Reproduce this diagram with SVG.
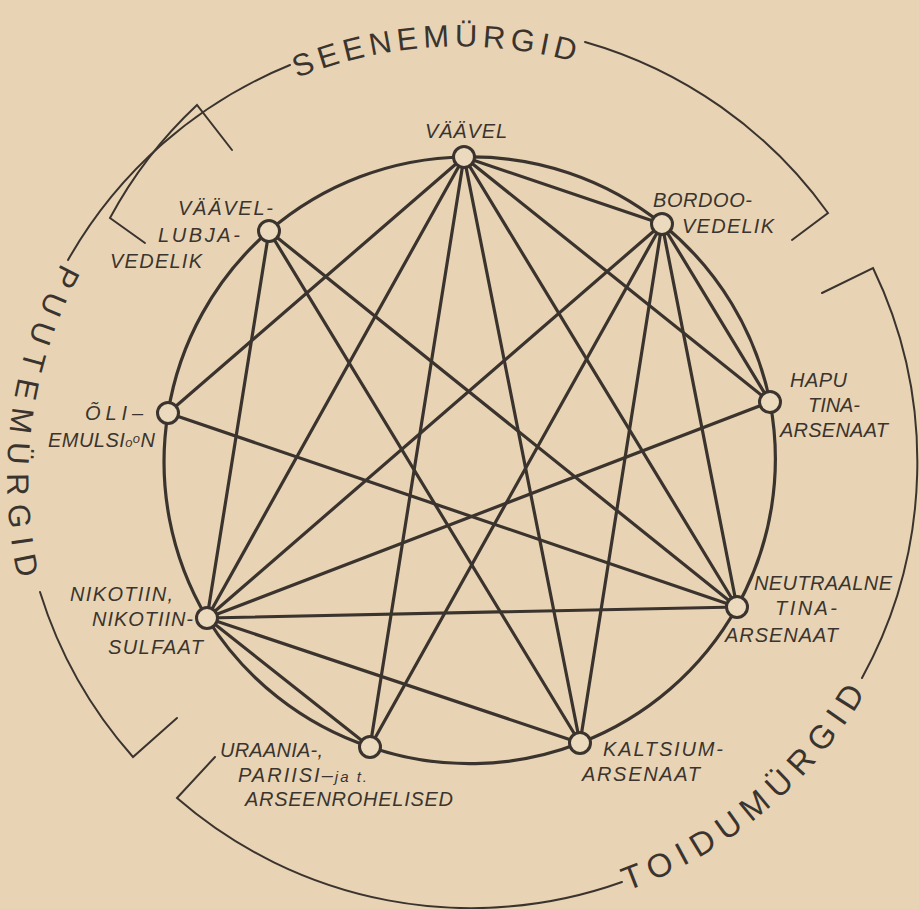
<svg xmlns="http://www.w3.org/2000/svg" width="919" height="909" viewBox="0 0 919 909">
<defs>
<style>
.bg{fill:#e8d4b5}
.edge{fill:none;stroke:#3b342e;stroke-width:3.2;stroke-linecap:round}
.br{fill:none;stroke:#3b342e;stroke-width:2;stroke-linecap:round;stroke-linejoin:miter}
.node{fill:#ebdabe;stroke:#3b342e;stroke-width:3}
.lbl{font-family:"Liberation Sans","DejaVu Sans",sans-serif;font-style:italic;font-size:20px;fill:#3b342e}
.grp{font-family:"Liberation Sans","DejaVu Sans",sans-serif;font-size:31px;fill:#3b342e}
.sm{font-size:15px}
.xs{font-size:13px}
</style>
<path id="pSeene" d="M 297 78 A 433 433 0 0 1 600 70"/>
<path id="pPuute" d="M 61.5 263 A 455 455 0 0 0 23.5 600"/>
<path id="pToidu" d="M 627 891 A 459 459 0 0 0 886 654"/>
</defs>
<rect class="bg" x="0" y="0" width="919" height="909"/>

<g id="brackets">
<path class="br" d="M 68 260 A 451 451 0 0 1 290 65"/>
<path class="br" d="M 585 42 A 451 451 0 0 1 828 213 L 792 240"/>
<path class="br" d="M 232 150 L 197 105 A 440 440 0 0 0 110 218 L 145 243"/>
<path class="br" d="M 40 592 A 449 449 0 0 0 133 757 L 177 718"/>
<path class="br" d="M 215 757 L 177 798 A 448 448 0 0 0 622 882"/>
<path class="br" d="M 862 678 A 448 448 0 0 0 873 268 L 822 293"/>
<text class="grp"><textPath href="#pSeene" textLength="282">SEENEMÜRGID</textPath></text>
<text class="grp"><textPath href="#pPuute" textLength="325">PUUTEMÜRGID</textPath></text>
<text class="grp" style="font-size:33px"><textPath href="#pToidu" textLength="316">TOIDUMÜRGID</textPath></text>
</g>

<g id="connectors">
<path class="edge" d="M 464 157 A 305 305 0 0 1 662 224"/>
<path class="edge" d="M 662 224 A 305 305 0 0 1 770 402"/>
<path class="edge" d="M 770 402 A 305 305 0 0 1 737 607"/>
<path class="edge" d="M 737 607 A 305 305 0 0 1 580 743"/>
<path class="edge" d="M 580 743 A 305 305 0 0 1 370 747"/>
<path class="edge" d="M 370 747 A 305 305 0 0 1 207 618"/>
<path class="edge" d="M 207 618 A 305 305 0 0 1 168 413"/>
<path class="edge" d="M 168 413 A 305 305 0 0 1 269 231"/>
<path class="edge" d="M 269 231 A 305 305 0 0 1 464 157"/>
<line class="edge" x1="464" y1="157" x2="662" y2="224"/>
<line class="edge" x1="662" y1="224" x2="770" y2="402"/>
<line class="edge" x1="207" y1="618" x2="370" y2="747"/>
<line class="edge" x1="464" y1="157" x2="770" y2="402"/>
<line class="edge" x1="464" y1="157" x2="737" y2="607"/>
<line class="edge" x1="464" y1="157" x2="580" y2="743"/>
<line class="edge" x1="464" y1="157" x2="370" y2="747"/>
<line class="edge" x1="464" y1="157" x2="207" y2="618"/>
<line class="edge" x1="464" y1="157" x2="168" y2="413"/>
<line class="edge" x1="662" y1="224" x2="207" y2="618"/>
<line class="edge" x1="662" y1="224" x2="370" y2="747"/>
<line class="edge" x1="662" y1="224" x2="580" y2="743"/>
<line class="edge" x1="662" y1="224" x2="737" y2="607"/>
<line class="edge" x1="770" y1="402" x2="207" y2="618"/>
<line class="edge" x1="737" y1="607" x2="207" y2="618"/>
<line class="edge" x1="737" y1="607" x2="168" y2="413"/>
<line class="edge" x1="737" y1="607" x2="269" y2="231"/>
<line class="edge" x1="580" y1="743" x2="269" y2="231"/>
<line class="edge" x1="580" y1="743" x2="207" y2="618"/>
<line class="edge" x1="269" y1="231" x2="207" y2="618"/>
</g>

<g id="vaavel"><circle class="node" cx="464" cy="157" r="10.5"/><text class="lbl" x="425" y="138" textLength="82">VÄÄVEL</text></g>
<g id="bordoo"><circle class="node" cx="662" cy="224" r="10.5"/><text class="lbl" x="653" y="207" textLength="99">BORDOO-</text><text class="lbl" x="682" y="233" textLength="92">VEDELIK</text></g>
<g id="hapu"><circle class="node" cx="770" cy="402" r="10.5"/><text class="lbl" x="790" y="387" textLength="57">HAPU</text><text class="lbl" x="808" y="412" textLength="52">TINA-</text><text class="lbl" x="780" y="437" textLength="108">ARSENAAT</text></g>
<g id="neutraalne"><circle class="node" cx="737" cy="607" r="10.5"/><text class="lbl" x="754" y="590" textLength="138">NEUTRAALNE</text><text class="lbl" x="775" y="615" textLength="62">TINA-</text><text class="lbl" x="725" y="642" textLength="113">ARSENAAT</text></g>
<g id="kaltsium"><circle class="node" cx="580" cy="743" r="10.5"/><text class="lbl" x="603" y="756" textLength="120">KALTSIUM-</text><text class="lbl" x="582" y="781" textLength="118">ARSENAAT</text></g>
<g id="uraania"><circle class="node" cx="370" cy="747" r="10.5"/><text class="lbl" x="220" y="757" textLength="103">URAANIA-,</text><text class="lbl" x="238" y="782" textLength="129">PARIISI–<tspan class="sm">ja t.</tspan></text><text class="lbl" x="245" y="806" textLength="208">ARSEENROHELISED</text></g>
<g id="nikotiin"><circle class="node" cx="207" cy="618" r="10.5"/><text class="lbl" x="70" y="601" textLength="103">NIKOTIIN,</text><text class="lbl" x="92" y="626" textLength="101">NIKOTIIN-</text><text class="lbl" x="108" y="654" textLength="95">SULFAAT</text></g>
<g id="oli"><circle class="node" cx="168" cy="413" r="10.5"/><text class="lbl" x="85" y="420" textLength="58">ÕLI–</text><text class="lbl" x="48" y="447" textLength="107">EMULSI<tspan class="xs">o</tspan><tspan class="xs" dy="-4">o</tspan><tspan dy="4">N</tspan></text></g>
<g id="vaavel-lubja"><circle class="node" cx="269" cy="231" r="10.5"/><text class="lbl" x="178" y="215" textLength="95">VÄÄVEL-</text><text class="lbl" x="158" y="242" textLength="82">LUBJA-</text><text class="lbl" x="110" y="268" textLength="92">VEDELIK</text></g>
</svg>
